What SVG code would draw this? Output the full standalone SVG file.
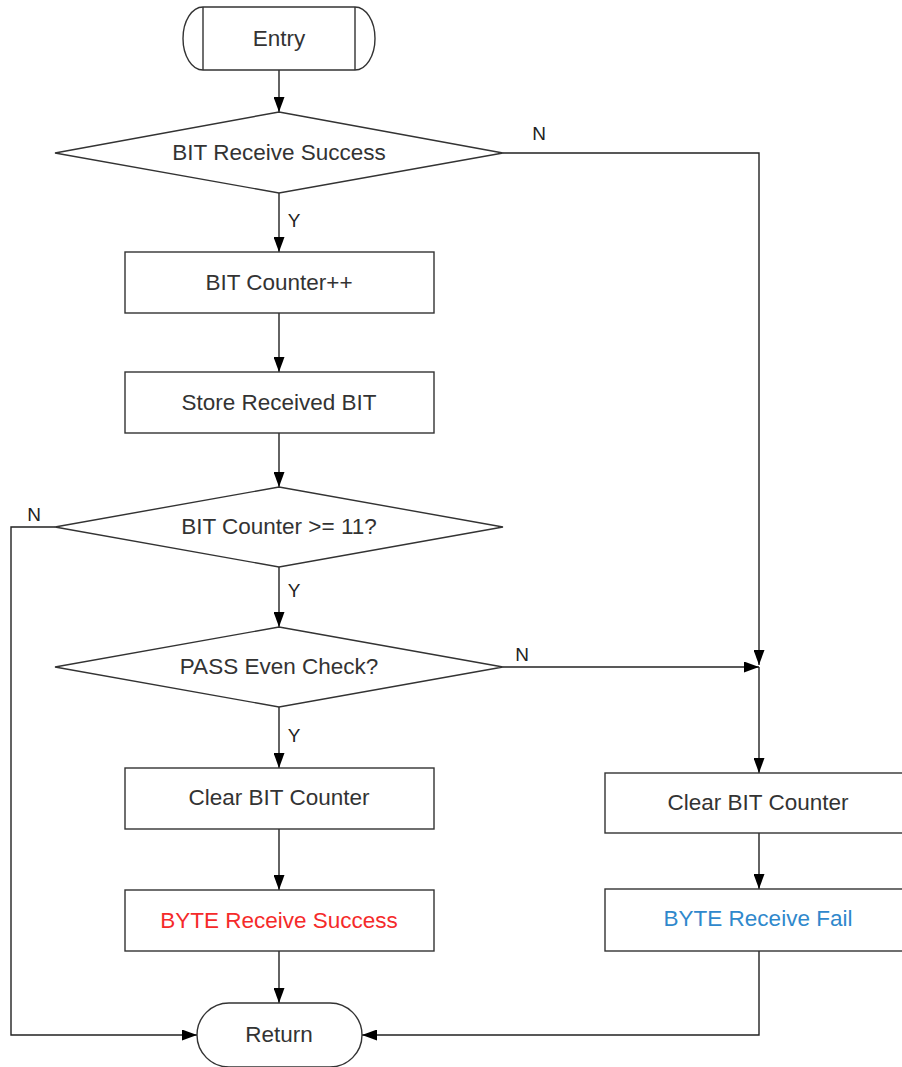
<svg xmlns="http://www.w3.org/2000/svg" width="902" height="1067" viewBox="0 0 902 1067">
<defs>
<marker id="ah" markerWidth="15" markerHeight="11" refX="15" refY="5.5" orient="auto" markerUnits="userSpaceOnUse">
<path d="M0,0 L15,5.5 L0,11 Z" fill="#000"/>
</marker>
<style>
.s{fill:#fff;stroke:#333;stroke-width:1.4}
.t{font-family:"Liberation Sans",Arial,sans-serif;font-size:22.5px;fill:#333;text-anchor:middle;dominant-baseline:central}
.l{font-family:"Liberation Sans",Arial,sans-serif;font-size:19px;fill:#222;text-anchor:middle;dominant-baseline:central}
.c{fill:none;stroke:#222;stroke-width:1.4}
</style>
</defs>
<rect width="902" height="1067" fill="#fff"/>
<g id="connectors">
<path class="c" d="M279,70 V112" marker-end="url(#ah)"/>
<path class="c" d="M503,153 H759 V665" marker-end="url(#ah)"/>
<path class="c" d="M279,193 V252" marker-end="url(#ah)"/>
<path class="c" d="M279,313 V372" marker-end="url(#ah)"/>
<path class="c" d="M279,433 V487" marker-end="url(#ah)"/>
<path class="c" d="M55,527 H11 V1035 H197" marker-end="url(#ah)"/>
<path class="c" d="M279,567 V627" marker-end="url(#ah)"/>
<path class="c" d="M503,667 H759" marker-end="url(#ah)"/>
<path class="c" d="M759,667 V773" marker-end="url(#ah)"/>
<path class="c" d="M279,707 V768" marker-end="url(#ah)"/>
<path class="c" d="M279,829 V890" marker-end="url(#ah)"/>
<path class="c" d="M279,951 V1003" marker-end="url(#ah)"/>
<path class="c" d="M759,833 V889" marker-end="url(#ah)"/>
<path class="c" d="M759,951 V1035 H362" marker-end="url(#ah)"/>
<text class="l" x="539" y="133">N</text>
<text class="l" x="294" y="220">Y</text>
<text class="l" x="34" y="514">N</text>
<text class="l" x="294" y="590">Y</text>
<text class="l" x="522" y="654">N</text>
<text class="l" x="294" y="735">Y</text>
</g>
<g id="entry">
<path class="s" d="M203,7 H355 A20,31.5 0 0 1 355,70 H203 A20,31.5 0 0 1 203,7 Z"/>
<path class="s" d="M203,7 V70 M355,7 V70"/>
<text class="t" x="279" y="38">Entry</text>
</g>
<g id="d1">
<polygon class="s" points="279,112 503,153 279,193 55,153"/>
<text class="t" x="279" y="152">BIT Receive Success</text>
</g>
<g id="b1">
<rect class="s" x="125" y="252" width="309" height="61"/>
<text class="t" x="279" y="282">BIT Counter++</text>
</g>
<g id="b2">
<rect class="s" x="125" y="372" width="309" height="61"/>
<text class="t" x="279" y="402">Store Received BIT</text>
</g>
<g id="d2">
<polygon class="s" points="279,487 503,527 279,567 55,527"/>
<text class="t" x="279" y="526">BIT Counter &gt;= 11?</text>
</g>
<g id="d3">
<polygon class="s" points="279,627 503,667 279,707 55,667"/>
<text class="t" x="279" y="666">PASS Even Check?</text>
</g>
<g id="b3">
<rect class="s" x="125" y="768" width="309" height="61"/>
<text class="t" x="279" y="797">Clear BIT Counter</text>
</g>
<g id="b4">
<rect class="s" x="125" y="890" width="309" height="61"/>
<text class="t" x="279" y="920" style="fill:#f52a2a">BYTE Receive Success</text>
</g>
<g id="b5">
<rect class="s" x="605" y="773" width="310" height="60"/>
<text class="t" x="758" y="802">Clear BIT Counter</text>
</g>
<g id="b6">
<rect class="s" x="605" y="889" width="310" height="62"/>
<text class="t" x="758" y="918" style="fill:#2f88cc">BYTE Receive Fail</text>
</g>
<g id="ret">
<rect class="s" x="197" y="1003" width="165" height="64" rx="32" ry="32"/>
<text class="t" x="279" y="1034">Return</text>
</g>
</svg>
